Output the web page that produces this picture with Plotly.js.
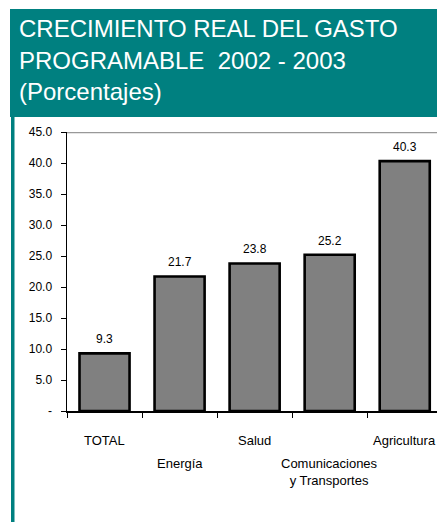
<!DOCTYPE html>
<html>
<head>
<meta charset="utf-8">
<script src="https://cdn.plot.ly/plotly-3.0.1.min.js"></script>
<style>
  html, body { margin: 0; padding: 0; background: #ffffff; }
  #chart { width: 437px; height: 522px; }
</style>
</head>
<body>
<div id="chart"></div>
<script>
// ---- Data ----
const titleLines = ["CRECIMIENTO REAL DEL GASTO", "PROGRAMABLE  2002 - 2003", "(Porcentajes)"];
const categories = ["TOTAL", "Energía", "Salud", "Comunicaciones y Transportes", "Agricultura"];
const categoryLabels = ["TOTAL", "Energía", "Salud", "Comunicaciones<br>y Transportes", "Agricultura"];
const values = [9.3, 21.7, 23.8, 25.2, 40.3];
const yTickVals = [0, 5, 10, 15, 20, 25, 30, 35, 40, 45];
const yTickText = ["-", "5.0", "10.0", "15.0", "20.0", "25.0", "30.0", "35.0", "40.0", "45.0"];

// ---- Layout geometry (pixels) ----
const W = 437, H = 522;
const L = 67, T = 132, B = 111, R = 0;
const PW = W - L - R, PH = H - T - B;
const px2x = p => (p - L) / PW;
const py2y = p => (T + PH - p) / PH;

const teal = "#008080";
const font = "Liberation Sans, Arial, sans-serif";

const trace = {
  type: "bar",
  x: categories,
  y: values,
  marker: { color: "#808080", line: { color: "#000000", width: 2.6 } },
  hoverinfo: "skip"
};

const annotations = [];
const titleY = [29, 60, 91];
titleLines.forEach((t, i) => {
  annotations.push({
    text: t, xref: "paper", yref: "paper",
    x: px2x(17), y: py2y(titleY[i]), xanchor: "left", yanchor: "middle",
    showarrow: false, font: { family: font, size: 24, color: "#ffffff" }
  });
});
categories.forEach((c, i) => {
  annotations.push({
    text: values[i].toFixed(1), xref: "x", yref: "y",
    x: c, y: values[i], xanchor: "center", yanchor: "middle", yshift: 14,
    showarrow: false, font: { family: font, size: 12, color: "#000000" }
  });
  const row2 = i % 2 === 1;
  annotations.push({
    text: categoryLabels[i], xref: "x", yref: "paper",
    x: c, y: py2y(row2 ? 454 : 431), xanchor: "center", yanchor: "top",
    showarrow: false, font: { family: font, size: 13, color: "#000000" }
  });
});

const shapes = [
  { type: "rect", xref: "paper", yref: "paper", x0: px2x(10), x1: px2x(437), y0: py2y(117), y1: py2y(9),
    fillcolor: teal, line: { width: 0 }, layer: "below" },
  { type: "rect", xref: "paper", yref: "paper", x0: px2x(11), x1: px2x(14.5), y0: py2y(522), y1: py2y(117),
    fillcolor: teal, line: { width: 0 }, layer: "below" },
  { type: "line", xref: "paper", yref: "y", x0: 0, x1: 1, y0: 45, y1: 45,
    line: { color: "#999999", width: 2.5 } }
];

const layout = {
  width: W, height: H,
  margin: { l: L, r: R, t: T, b: B, pad: 0 },
  paper_bgcolor: "#ffffff", plot_bgcolor: "#ffffff",
  showlegend: false,
  bargap: 0.333,
  font: { family: font, size: 12, color: "#000000" },
  xaxis: {
    type: "category", range: [-0.5, 4.43],
    showticklabels: false, ticks: "outside", tickson: "boundaries",
    ticklen: 5, tickcolor: "#000000", tickwidth: 1,
    showline: true, linecolor: "#000000", linewidth: 1.5,
    showgrid: false, zeroline: false, fixedrange: true
  },
  yaxis: {
    range: [0, 45], tickmode: "array", tickvals: yTickVals, ticktext: yTickText,
    ticks: "outside", ticklen: 5, tickcolor: "#000000", tickwidth: 1,
    ticklabelstandoff: 6,
    tickfont: { family: font, size: 12, color: "#000000" },
    showline: true, linecolor: "#000000", linewidth: 1.5,
    showgrid: false, zeroline: false, fixedrange: true
  },
  annotations: annotations,
  shapes: shapes
};

Plotly.newPlot("chart", [trace], layout, { displayModeBar: false, staticPlot: true });
</script>
</body>
</html>
